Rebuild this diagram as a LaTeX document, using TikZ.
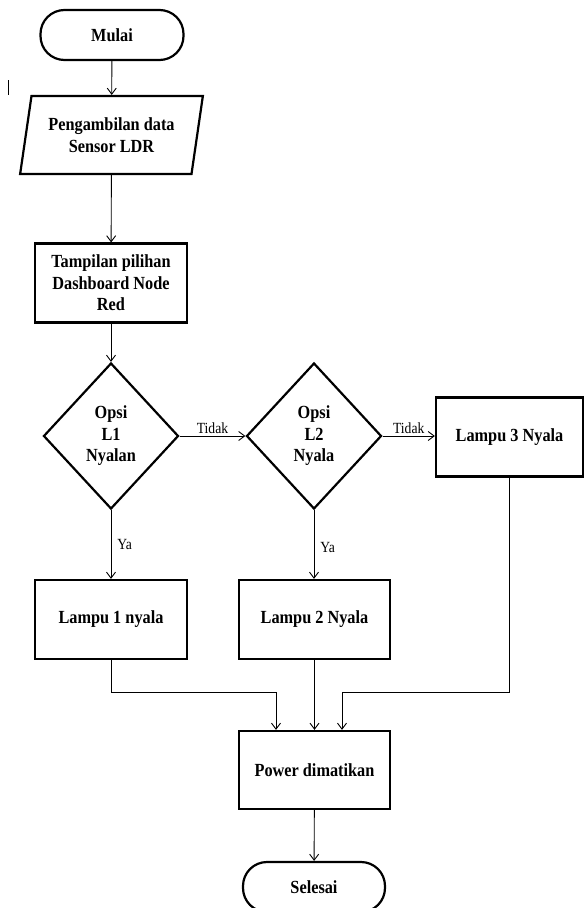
\documentclass[tikz,border=0pt]{standalone}
\usepackage{fontspec}
\setmainfont[FakeStretch=0.88]{Liberation Serif}
\usetikzlibrary{shapes.geometric,arrows.meta}
\begin{document}
\begin{tikzpicture}[x=1pt,y=1pt]
  %
  \tikzstyle{box} = [draw=black, line width=2.2pt, align=center, inner sep=1pt, font=\bfseries\fontsize{18.5}{21.5}\selectfont]
  \tikzstyle{term} = [box, rectangle, rounded corners=24pt, minimum width=143, minimum height=50]
  \tikzstyle{io} = [box, trapezium, trapezium left angle=76, trapezium right angle=104, trapezium stretches=true, minimum width=183, minimum height=78]
  \tikzstyle{proc} = [box, rectangle, minimum width=152, minimum height=79]
  \tikzstyle{dec} = [box, diamond, minimum width=135, minimum height=146, inner sep=0pt]
  \tikzstyle{conn} = [draw=black, line width=0.9pt, -{Straight Barb[length=6pt,width=9pt]}]
  \tikzstyle{lbl} = [font=\fontsize{15.5}{17}\selectfont, inner sep=1.5pt]
  \useasboundingbox (0,0) rectangle (585,-908);

  \node[term] (mulai) at (112,-35) {Mulai};
  \node[io] (data) at (111.5,-135) {Pengambilan data\\Sensor LDR};
  \node[proc] (tampil) at (111,-283) {Tampilan pilihan\\Dashboard Node\\Red};
  \node[dec] (opsi1) at (111,-436) {Opsi\\L1\\Nyalan};
  \node[dec] (opsi2) at (314,-436) {Opsi\\L2\\Nyala};
  \node[proc, minimum width=147] (lampu3) at (509.5,-437) {Lampu 3 Nyala};
  \node[proc] (lampu1) at (111,-619.5) {Lampu 1 nyala};
  \node[proc, minimum width=151] (lampu2) at (314.5,-619.5) {Lampu 2 Nyala};
  \node[proc, minimum width=151, minimum height=78] (power) at (314.5,-770) {Power dimatikan};
  \node[term, minimum width=142] (selesai) at (314,-887) {Selesai};

  \coordinate (j1) at (276,-692);
  \coordinate (j3) at (342,-692);

  \draw[line width=0.8pt] (8,-80) -- (8,-95);

  \draw[conn] (mulai) -- (data);
  \draw[conn] (data) -- (tampil);
  \draw[conn] (tampil) -- (opsi1);
  \draw[conn] (opsi1.east) -- node[lbl, above] {Tidak} (opsi2.west);
  \draw[conn] (opsi2.east) -- node[lbl, above] {Tidak} (opsi2.east -| lampu3.west);
  \draw[conn] (opsi1.south) -- node[lbl, right, inner sep=6pt] {Ya} (lampu1.north);
  \draw[conn] (opsi2.south) -- node[lbl, right, inner sep=6pt, pos=0.55] {Ya} (opsi2.south |- lampu2.north);
  \draw[conn] (lampu1.south) |- (j1) -- (j1 |- power.north);
  \draw[conn] (lampu2.south) -- (power.north);
  \draw[conn] (lampu3.south) |- (j3) -- (j3 |- power.north);
  \draw[conn] (power) -- (selesai);
\end{tikzpicture}
\end{document}
